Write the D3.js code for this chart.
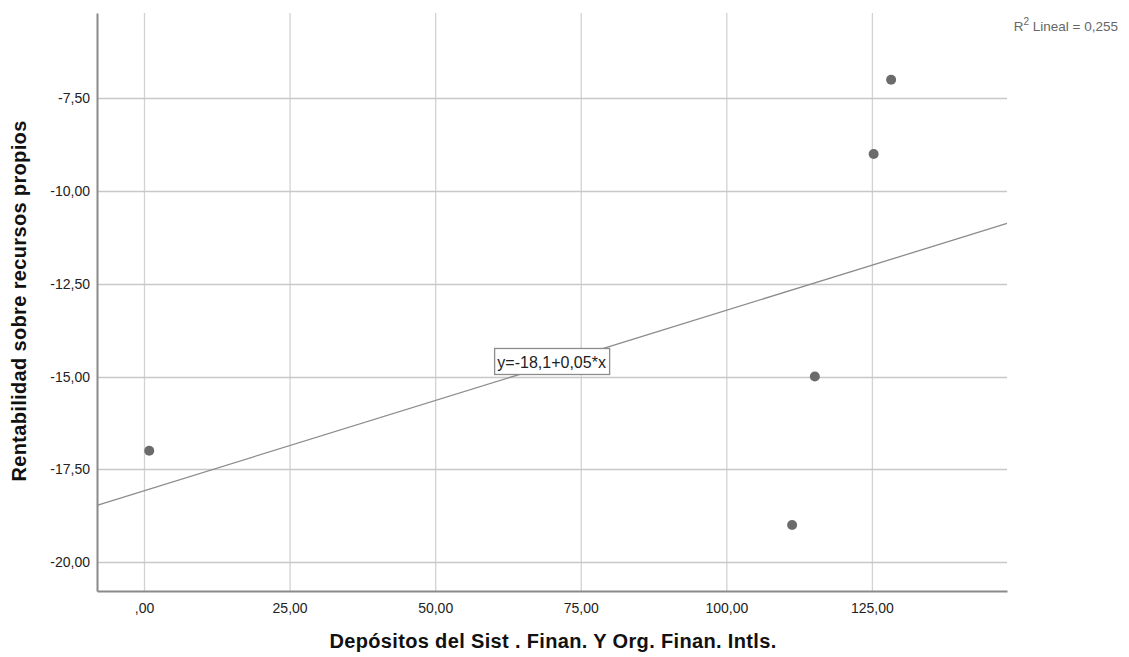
<!DOCTYPE html>
<html>
<head>
<meta charset="utf-8">
<script src="https://cdn.jsdelivr.net/npm/d3@7"></script>
<style>
  body { margin: 0; background: #fff; }
  text { font-family: "Liberation Sans", Arial, sans-serif; }
</style>
</head>
<body>
<script>
const xValues = [0.9, 111.3, 115.2, 125.3, 128.3]
const yValues = [-17, -19, -15, -9, -7]
const xTicks = [0, 25, 50, 75, 100, 125]
const yTicks = [-7.5, -10, -12.5, -15, -17.5, -20]
const xTitle = 'Depósitos del Sist . Finan. Y Org. Finan. Intls.'
const yTitle = 'Rentabilidad sobre recursos propios'

const width = 1129
const height = 657
const margin = { top: 13, right: 122, bottom: 66, left: 97 }

const locale = d3.formatLocale({ decimal: ',', thousands: '.', grouping: [3], currency: ['', ''], minus: '-' })
const fmt = v => locale.format('.2f')(v).replace(/^0,/, ',').replace(/^-0,/, '-,')

const svg = d3.select('body').append('svg')
  .attr('width', width)
  .attr('height', height)

const x = d3.scaleLinear()
  .domain([-8.07, 148.2])
  .range([margin.left, width - margin.right])

const y = d3.scaleLinear()
  .domain([-20.78, -5.2])
  .range([height - margin.bottom, margin.top])

const plotTop = margin.top
const plotBottom = height - margin.bottom

// grid
svg.append('g').selectAll('line').data(xTicks).enter().append('line')
  .attr('x1', d => x(d) + 0.5).attr('x2', d => x(d) + 0.5)
  .attr('y1', plotTop).attr('y2', plotBottom)
  .attr('stroke', '#d2d2d2').attr('stroke-width', 1.3)

svg.append('g').selectAll('line').data(yTicks).enter().append('line')
  .attr('x1', margin.left).attr('x2', width - margin.right)
  .attr('y1', d => Math.round(y(d)) + 0.5).attr('y2', d => Math.round(y(d)) + 0.5)
  .attr('stroke', '#c8c8c8').attr('stroke-width', 1.3)

// axes
const xAxis = d3.axisBottom(x).tickValues(xTicks).tickFormat(fmt).tickSize(0).tickPadding(12)
const gx = svg.append('g')
  .attr('transform', `translate(0,${plotBottom})`)
  .call(xAxis)
gx.select('.domain').attr('stroke', '#8a8a8a').attr('stroke-width', 2)
gx.selectAll('text').attr('font-size', 14).attr('font-family', '"Liberation Sans", Arial, sans-serif').attr('fill', '#222')

const yAxis = d3.axisLeft(y).tickValues(yTicks).tickFormat(fmt).tickSize(0).tickPadding(7)
const gy = svg.append('g')
  .attr('transform', `translate(${margin.left},0)`)
  .call(yAxis)
gy.select('.domain').attr('stroke', '#8a8a8a').attr('stroke-width', 2)
gy.selectAll('text').attr('font-size', 14).attr('font-family', '"Liberation Sans", Arial, sans-serif').attr('fill', '#222')

// linear fit
const mx = d3.mean(xValues)
const my = d3.mean(yValues)
const sxy = d3.sum(xValues, (v, i) => (v - mx) * (yValues[i] - my))
const sxx = d3.sum(xValues, v => (v - mx) * (v - mx))
const syy = d3.sum(yValues, v => (v - my) * (v - my))
const slope = sxy / sxx
const intercept = my - slope * mx
const r2 = (sxy * sxy) / (sxx * syy)

const [x0, x1] = x.domain()
svg.append('line')
  .attr('x1', x(x0)).attr('y1', y(intercept + slope * x0))
  .attr('x2', x(x1)).attr('y2', y(intercept + slope * x1))
  .attr('stroke', '#8c8c8c').attr('stroke-width', 1.3)

// points
svg.append('g').selectAll('circle').data(xValues).enter().append('circle')
  .attr('cx', d => x(d))
  .attr('cy', (d, i) => y(yValues[i]))
  .attr('r', 5)
  .attr('fill', '#6b6b6b')

// equation label
const lx = 70
const eq = `y=${locale.format('.1f')(intercept)}+${locale.format('.2f')(slope)}*x`
const lbl = svg.append('g')
  .attr('transform', `translate(${x(lx)},${y(intercept + slope * lx)})`)
lbl.append('rect')
  .attr('x', -57).attr('y', -16).attr('width', 115).attr('height', 26)
  .attr('fill', '#fff').attr('stroke', '#8c8c8c').attr('stroke-width', 1.3)
lbl.append('text')
  .attr('text-anchor', 'middle').attr('y', 4)
  .attr('font-size', 16).attr('fill', '#222')
  .text(eq)

// R2 label
const r2t = svg.append('text')
  .attr('x', 1118).attr('y', 31)
  .attr('text-anchor', 'end')
  .attr('font-size', 13.5).attr('fill', '#666')
r2t.append('tspan').text('R')
r2t.append('tspan').attr('dy', -6).attr('font-size', 10).text('2')
r2t.append('tspan').attr('dy', 6).text(` Lineal = ${locale.format('.3f')(r2)}`)

// titles
svg.append('text')
  .attr('x', 553).attr('y', 648)
  .attr('text-anchor', 'middle')
  .attr('font-size', 20).attr('font-weight', 'bold').attr('fill', '#111')
  .attr('letter-spacing', 0.35)
  .text(xTitle)

svg.append('text')
  .attr('transform', 'translate(26,301) rotate(-90)')
  .attr('text-anchor', 'middle')
  .attr('font-size', 20).attr('font-weight', 'bold').attr('fill', '#111')
  .attr('letter-spacing', 0.35)
  .text(yTitle)
</script>
</body>
</html>
